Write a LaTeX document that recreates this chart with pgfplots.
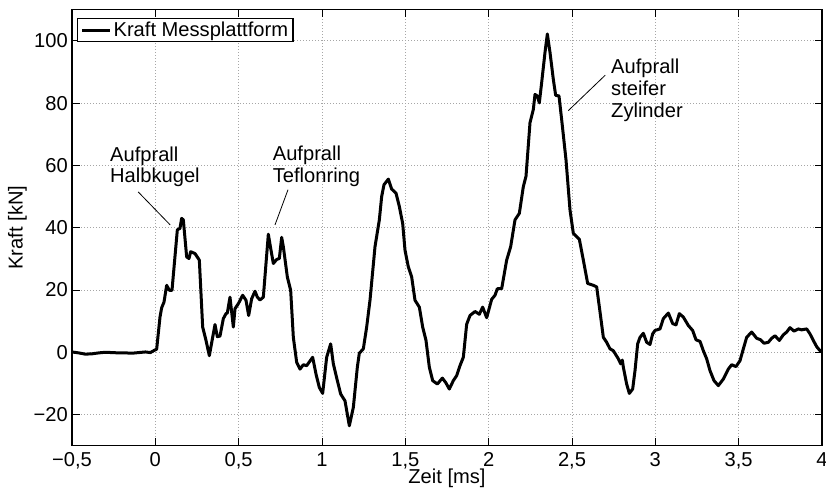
\documentclass[border=0pt]{standalone}
\usepackage{pgfplots}
\pgfplotsset{compat=1.18}
\usepackage{fontspec}
\setmainfont{Liberation Sans}
\begin{document}
\begin{tikzpicture}
\begin{axis}[
  scale only axis,
  width=750bp, height=436bp,
  xmin=-0.5, xmax=4, ymin=-30, ymax=110,
  xtick={-0.5,0,0.5,1,1.5,2,2.5,3,3.5,4},
  xticklabels={{−0,5},0,{0,5},1,{1,5},2,{2,5},3,{3,5},4},
  ytick={-20,0,20,40,60,80,100},
  yticklabels={−20,0,20,40,60,80,100},
  xtick pos=both, ytick pos=both,
  tick align=inside,
  major tick length=7.5bp,
  tick style={black, line width=0.9bp},
  axis line style={black, line width=1.4bp},
  grid=major,
  major grid style={gray!70, line width=0.7bp, dash pattern=on 0.8bp off 2.2bp},
  font=\fontsize{20.2}{22}\selectfont,
  xticklabel style={inner sep=0pt, anchor=north, yshift=-7bp},
  yticklabel style={inner sep=0pt, anchor=east, xshift=-4bp},
  xlabel={Zeit [ms]},
  ylabel={Kraft [kN]},
  xlabel style={inner sep=0pt, at={(axis description cs:0.5,0)}, anchor=north, yshift=-23.5bp},
  ylabel style={inner sep=0pt, at={(axis description cs:-0.06,0.5)}, anchor=south, rotate=0},
  legend image code/.code={\draw[#1] (0bp,0bp) -- (28bp,0bp);},
  legend style={at={(axis description cs:0.0067,0.981)}, anchor=north west,
    draw=black, line width=1.2bp, inner xsep=3bp, inner ysep=1.5bp,
    font=\fontsize{20.2}{22}\selectfont},
  legend cell align=left,
]
\addplot[black, line width=3bp, line join=round] coordinates {
(-0.5,0.1)(-0.46,-0.2)(-0.42,-0.6)(-0.38,-0.5)(-0.34,-0.2)(-0.3,0)(-0.26,-0.1)(-0.22,-0.2)(-0.18,-0.2)(-0.14,-0.3)(-0.1,-0.1)(-0.06,0.1)(-0.03,-0.1)(-0.01,0.5)(0.008,1)(0.028,11.3)(0.038,14.3)(0.052,16.1)(0.068,21.5)(0.084,19.9)(0.1,19.9)(0.115,29)(0.132,39.3)(0.148,39.8)(0.158,43)(0.168,42.5)(0.188,30.6)(0.202,30.1)(0.212,32.3)(0.238,31.7)(0.264,29.6)(0.284,8.1)(0.304,3.8)(0.324,-1.1)(0.344,4.8)(0.358,8.9)(0.372,5)(0.388,5.2)(0.408,10.8)(0.424,12.4)(0.432,12.6)(0.448,17.7)(0.468,8.1)(0.478,14)(0.498,15.6)(0.524,18.3)(0.544,16.7)(0.56,11.8)(0.578,17.2)(0.598,19.6)(0.612,17.7)(0.628,16.8)(0.648,17.7)(0.664,28.5)(0.678,37.9)(0.694,32.8)(0.708,28.5)(0.728,29.8)(0.744,30.1)(0.758,36.9)(0.768,33.9)(0.792,24.2)(0.812,19.9)(0.828,4.8)(0.848,-3.2)(0.868,-5.4)(0.888,-4)(0.908,-4.3)(0.944,-1.6)(0.964,-7)(0.984,-11.3)(1.004,-13.2)(1.028,-1.6)(1.052,2.7)(1.068,-3.7)(1.092,-9.1)(1.112,-13.4)(1.138,-15.6)(1.164,-23.6)(1.188,-17.7)(1.212,-4.8)(1.224,-0.3)(1.248,1.1)(1.268,8.1)(1.288,16.7)(1.318,33.9)(1.344,42.5)(1.358,50)(1.372,53.8)(1.398,55.6)(1.418,52.4)(1.444,51.1)(1.464,46.8)(1.484,41.4)(1.498,32.8)(1.518,27.4)(1.538,24.2)(1.558,16.7)(1.584,14.5)(1.604,8.1)(1.624,3.8)(1.644,-4.8)(1.664,-9.1)(1.692,-10.2)(1.722,-8.3)(1.742,-9.7)(1.764,-11.8)(1.788,-9.1)(1.808,-7.5)(1.828,-4.3)(1.848,-1.6)(1.868,9)(1.888,11.8)(1.918,13.1)(1.944,12.2)(1.964,14.5)(1.988,11.1)(2.018,17)(2.038,18.3)(2.052,20.4)(2.078,20.4)(2.108,29.6)(2.132,33.9)(2.158,42.5)(2.184,44.6)(2.208,53.2)(2.224,56.5)(2.248,73.7)(2.268,78)(2.278,82.8)(2.292,82.3)(2.304,80.1)(2.318,86.6)(2.338,96.3)(2.352,102.2)(2.368,96.3)(2.388,87.6)(2.402,82.5)(2.422,82.3)(2.438,74.7)(2.464,61.8)(2.488,45.7)(2.508,38.2)(2.544,36.3)(2.568,29.6)(2.594,22.1)(2.628,21.5)(2.648,21)(2.668,13)(2.688,4.8)(2.708,3.2)(2.728,1.1)(2.748,0.5)(2.778,-2.1)(2.792,-3.7)(2.802,-2.5)(2.808,-4.8)(2.828,-10.2)(2.844,-13.2)(2.864,-11.8)(2.878,-5.9)(2.894,2.7)(2.908,4.8)(2.928,6.1)(2.948,3.2)(2.968,2.5)(2.984,5.9)(2.998,7)(3.028,7.5)(3.048,10.8)(3.078,12.6)(3.104,9.2)(3.124,8.8)(3.144,12.4)(3.168,11.3)(3.198,8.6)(3.224,7)(3.244,4)(3.268,3.5)(3.288,0.5)(3.308,-2.1)(3.328,-5.9)(3.352,-9.1)(3.378,-10.7)(3.408,-8.6)(3.438,-5.4)(3.458,-4)(3.484,-4.6)(3.508,-2.7)(3.528,1.1)(3.548,4.8)(3.578,6.5)(3.608,4.5)(3.632,4)(3.652,2.9)(3.678,3.2)(3.698,4.5)(3.718,5.3)(3.744,3.8)(3.768,5.6)(3.788,6.5)(3.808,7.9)(3.832,6.8)(3.858,7.5)(3.878,7.2)(3.908,7.5)(3.928,5.9)(3.948,3.8)(3.968,1.8)(3.988,0.5)(4,0.5)
};
\addlegendentry{Kraft Messplattform}
\draw[black, line width=0.8bp] (axis cs:-0.103,51.5) -- (axis cs:0.089,40.9);
\draw[black, line width=0.8bp] (axis cs:0.796,52.2) -- (axis cs:0.718,40.9);
\draw[black, line width=0.8bp] (axis cs:2.70,89) -- (axis cs:2.478,77.6);
\node[anchor=north west, align=left, inner sep=0pt, font=\fontsize{20.2}{21.5}\selectfont] at (axis cs:-0.272,66.0) {Aufprall\\Halbkugel};
\node[anchor=north west, align=left, inner sep=0pt, font=\fontsize{20.2}{21.5}\selectfont] at (axis cs:0.704,66.2) {Aufprall\\Teflonring};
\node[anchor=north west, align=left, inner sep=0pt, font=\fontsize{20.2}{22}\selectfont] at (axis cs:2.734,94.3) {Aufprall\\steifer\\Zylinder};
\end{axis}
\pgfresetboundingbox
\path[use as bounding box] ([xshift=-72bp,yshift=-43.3bp]current axis.south west) rectangle ([xshift=4bp,yshift=9.7bp]current axis.north east);
\end{tikzpicture}
\end{document}
